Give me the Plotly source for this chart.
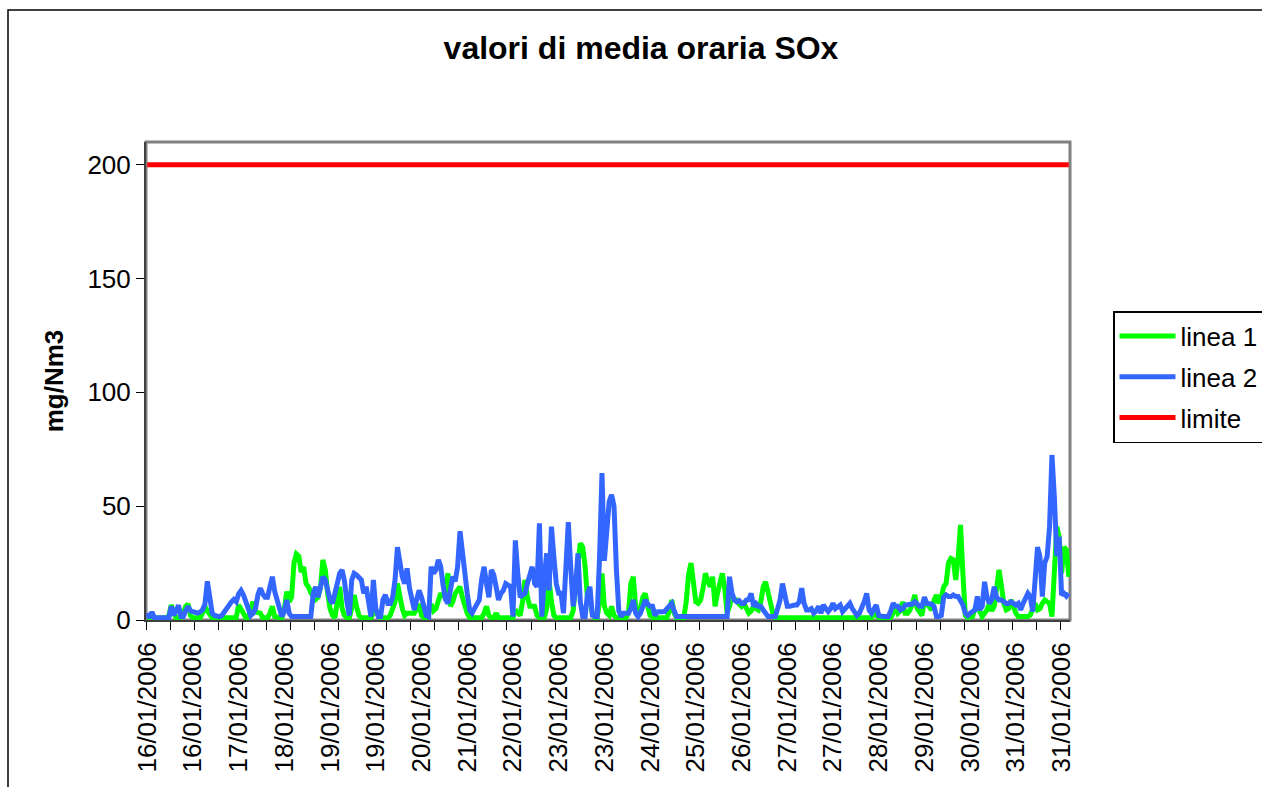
import plotly.graph_objects as go

# one value per hour, 16/01/2006 00:00 -> 31/01/2006 23:00 (one row = one day)
LINEA_1 = [
    1, 1, 1, 1, 1, 1, 1, 1, 1, 2, 6.6, 3, 1, 1, 1, 3, 6, 7, 2, 1, 1, 1, 1, 3,
    6, 4, 2, 1, 1, 1, 1, 1, 1, 1, 1, 1, 1, 1, 6.6, 5, 3, 1, 1, 4, 8, 3.5, 3, 3,
    1, 1, 1, 3, 6, 1.5, 1, 1, 1, 5, 12.5, 8, 10, 25, 29, 28, 21, 23.4, 16, 14.6, 12, 10, 9, 10,
    14, 26.4, 22, 11.7, 5, 2, 1, 8, 14.6, 5, 2, 1, 1, 5, 11, 6, 2, 1, 1, 1, 1, 1, 3, 4.4,
    2, 1, 1, 1, 1, 2, 4.4, 8, 16, 10, 5, 2, 3, 3, 3, 3, 5, 7, 2, 1, 1, 3, 7, 4,
    5, 8, 11.7, 10, 16, 20.5, 6, 8, 11.7, 13, 14.6, 10, 6, 3, 1, 1, 1, 1, 1, 1, 3, 6, 2, 1,
    1, 3, 1, 1, 1, 1, 1, 1, 1, 4.4, 3, 2, 8, 17.6, 10, 6, 6, 6, 2, 1, 1, 1, 5, 17.6,
    8, 2, 1, 1, 1, 1, 1, 1, 1, 4, 17.6, 25, 33.7, 32, 23.4, 8.8, 8.8, 3, 1, 1, 8, 20.5, 6, 3,
    2, 6, 2, 1, 1, 1, 1, 1, 3, 16, 19, 6, 3, 5, 10, 11.7, 6, 2, 1, 1, 1, 1, 1, 1,
    1, 4, 8.8, 3, 1, 1, 1, 1, 8, 20, 25, 17.6, 8, 7.3, 8.8, 14, 20.5, 17, 14.6, 19, 6, 11.7, 16, 20.5,
    14, 3, 6, 10, 9, 8.8, 7, 6, 7.3, 5, 3, 4, 6, 5, 4.4, 8, 14.6, 16.8, 11.7, 7.3, 3, 1, 1, 1,
    1, 1, 1, 1, 1, 1, 1, 1, 1, 1, 1, 1, 1, 1, 1, 1, 1, 1, 1, 1, 1, 1, 1, 1,
    1, 1, 1, 1, 1, 1, 1, 1, 1, 1, 1, 1, 1, 1, 4.4, 2, 1, 1, 1, 1, 1, 1, 3, 6,
    3, 4, 8, 3, 3, 4.4, 7, 11, 5, 3, 2, 8.8, 7.3, 6, 4.4, 8.8, 11, 7.3, 10, 14.6, 16, 25, 27, 26.4,
    17.6, 27, 41.8, 20, 2, 1, 1, 1.5, 5, 7.3, 3.7, 1.5, 3, 4.4, 7.3, 4, 6, 13, 22, 15, 7.3, 4.4, 5, 8.8,
    5, 3, 1.5, 1.5, 1.5, 1.5, 1.5, 2.2, 5, 7.3, 4.4, 5, 7.3, 8.8, 8, 7.3, 1.5, 20.5, 41, 36.6, 20.5, 32, 30.8, 19,
]

LINEA_2 = [
    3, 1, 3.5, 1, 1, 1, 1, 1, 1, 1, 6, 2, 4, 6.5, 1.5, 1.5, 4, 6, 4, 3.5, 3, 3, 3.5, 4.5,
    7, 17, 10, 3, 2, 1.5, 1.5, 2, 3.5, 5, 7, 8, 9, 8, 11.5, 13, 11, 8, 6, 2, 3, 5, 11, 14,
    11.5, 10, 10, 14, 19, 12.5, 8, 5, 1.5, 4, 8.8, 3, 1.5, 1.5, 1.5, 1.5, 1.5, 1.5, 1.5, 1.5, 1.5, 11.7, 14.6, 10,
    15, 19, 17.6, 12, 8.8, 7.3, 12, 16, 20.5, 22, 17, 8, 2, 17.6, 20.5, 19.8, 18.5, 17.6, 11.7, 14.6, 8, 1.5, 17.6, 5,
    1.5, 1.5, 9, 11, 7.3, 7.3, 10, 17.6, 32, 24, 19, 16, 22.7, 14, 10, 4.4, 9, 13, 10, 6, 2, 1.5, 23.4, 20.5,
    22, 26.4, 23.4, 15, 9, 7.3, 14.6, 19, 17, 23.4, 39, 28, 20.5, 11.7, 4.4, 3, 5, 7.3, 8.8, 18, 23.4, 16, 10, 22,
    20, 14.6, 8.8, 11.7, 13, 16, 15, 14.6, 1.5, 35, 20.5, 10, 11, 11.7, 16, 20, 23.4, 16, 14.6, 42.5, 1.5, 18, 29.3, 13,
    41, 27.8, 16, 11.7, 11.7, 3, 20, 43, 23.4, 6, 14, 29.3, 8, 1.5, 1.5, 11.7, 14.6, 2, 1.5, 1.5, 27.8, 64.5, 26, 38,
    52, 55, 50, 22, 4, 1.5, 3, 3, 3, 5, 8.8, 3, 1.5, 3, 6, 8.8, 7, 6, 6, 2, 3.5, 3.5, 3.7, 3.7,
    5, 6, 7.3, 4, 1.5, 1.5, 1.5, 1.5, 1.5, 1.5, 1.5, 1.5, 1.5, 1.5, 1.5, 1.5, 1.5, 1.5, 1.5, 1.5, 1.5, 1.5, 1.5, 1.5,
    1.5, 1.5, 19, 12, 8.8, 8, 8.5, 7.3, 7.3, 8.8, 9, 11.7, 6, 7.3, 6, 6, 4.4, 3, 1.5, 1.5, 1.5, 1.5, 5, 8.8,
    16, 11, 6, 6, 6.6, 6.6, 6.6, 8, 14, 7.3, 4.4, 4.4, 5, 3, 4, 6, 3, 6.6, 5, 3.7, 5, 7.3, 5, 6,
    6.6, 3.7, 5, 6.6, 7.3, 5, 3, 2, 3, 5, 8, 11.7, 4.4, 3, 5, 6.6, 2, 1.5, 1.5, 1.5, 1.5, 4, 7.3, 6,
    6, 4.4, 5, 6.6, 6.6, 6.6, 7, 8, 7.3, 6, 6, 10, 7.3, 7.3, 7, 5.9, 1.5, 1.5, 2, 10, 11, 10.3, 10.3, 11,
    10.3, 10.3, 8.8, 6.6, 3, 2, 3, 3.5, 4.4, 10.3, 4.4, 6, 16.8, 10, 7.3, 9, 14.6, 10, 8.8, 8.8, 8, 7.3, 7.3, 8,
    7.3, 6.6, 7.3, 4.4, 7.3, 10, 11.7, 10.3, 3.7, 17.6, 32, 27.8, 10.3, 25, 27.8, 41, 72.5, 54, 28, 36.6, 11, 11.7, 10.5, 11.7,
]

LIMITE = 200

# category labels, shown every 19 hours as in the original workbook
TICK_LABELS = [
    "16/01/2006", "16/01/2006", "17/01/2006", "18/01/2006", "19/01/2006", "19/01/2006",
    "20/01/2006", "21/01/2006", "22/01/2006", "23/01/2006", "23/01/2006", "24/01/2006",
    "25/01/2006", "26/01/2006", "27/01/2006", "27/01/2006", "28/01/2006", "29/01/2006",
    "30/01/2006", "31/01/2006", "31/01/2006",
]
LABEL_EVERY = 19

FONT = "Arial, 'Liberation Sans', sans-serif"

# figure is a bit wider/taller than the window so the legend and the outer
# frame run off the edge like in the source sheet (overflow hidden below)
W, H = 1400, 820
ML, MT = 146, 142
PW, PH = 924, 478

n = len(LINEA_1)
x = list(range(n))

fig = go.Figure()
fig.add_trace(go.Scatter(x=x, y=LINEA_1, mode="lines", name="linea 1",
                         legendgroup="a", line=dict(color="#00FF00", width=5)))
fig.add_trace(go.Scatter(x=x, y=LINEA_2, mode="lines", name="linea 2",
                         legendgroup="b", line=dict(color="#3366FF", width=5)))
fig.add_trace(go.Scatter(x=x, y=[LIMITE] * n, mode="lines", name="limite",
                         legendgroup="c", line=dict(color="#FF0000", width=5)))

fig.update_layout(
    width=W,
    height=H,
    paper_bgcolor="white",
    plot_bgcolor="white",
    margin=dict(l=ML, r=W - ML - PW, t=MT, b=H - MT - PH),
    font=dict(family=FONT, size=26, color="black"),
    title=dict(
        text="<b>valori di media oraria SOx</b>",
        font=dict(family=FONT, size=32, color="black"),
        xref="paper", x=(641 - ML) / PW, xanchor="center", y=1 - 48 / H, yanchor="middle",
    ),
    showlegend=True,
    legend=dict(
        x=(1113 - ML) / PW, xanchor="left", y=(MT + PH - 311) / PH, yanchor="top",
        bordercolor="black", borderwidth=1.5,
        font=dict(family=FONT, size=26, color="black"),
        traceorder="grouped", tracegroupgap=4, itemwidth=56,
    ),
    shapes=[
        # outer chart frame
        dict(type="rect", xref="paper", yref="paper",
             x0=-(ML - 8) / PW, x1=(W - 4 - ML) / PW,
             y0=-(H - 4 - MT - PH) / PH, y1=1 + (MT - 10) / PH,
             line=dict(color="black", width=1.5), layer="below"),
        # plot area border
        dict(type="rect", xref="paper", yref="paper", x0=0, x1=1, y0=0, y1=1,
             line=dict(color="#808080", width=3), layer="below"),
    ],
)

fig.update_xaxes(
    range=[-0.5, n - 0.5],
    tickmode="array",
    tickvals=[i * LABEL_EVERY for i in range(len(TICK_LABELS))],
    ticktext=TICK_LABELS,
    tickangle=-90,
    ticks="",
    ticklabelstandoff=10,
    tickfont=dict(family=FONT, size=26, color="black"),
    minor=dict(ticks="outside", tickmode="linear", tick0=-0.5, dtick=10,
               ticklen=8, tickcolor="black", tickwidth=1, showgrid=False),
    showgrid=False,
    zeroline=False,
    showline=True, linecolor="#404040", linewidth=2,
)
fig.update_yaxes(
    range=[0, 210],
    tickmode="array",
    tickvals=[0, 50, 100, 150, 200],
    ticks="outside", ticklen=8, tickcolor="black", tickwidth=1,
    tickfont=dict(family=FONT, size=26, color="black"),
    title=dict(text="<b>mg/Nm3</b>", font=dict(family=FONT, size=26, color="black"), standoff=16),
    showgrid=False,
    zeroline=False,
    showline=True, linecolor="#404040", linewidth=2,
)

fig.write_html(
    "out.html",
    config={"displayModeBar": False},
    post_script="document.body.style.margin='0';document.body.style.overflow='hidden';",
)
